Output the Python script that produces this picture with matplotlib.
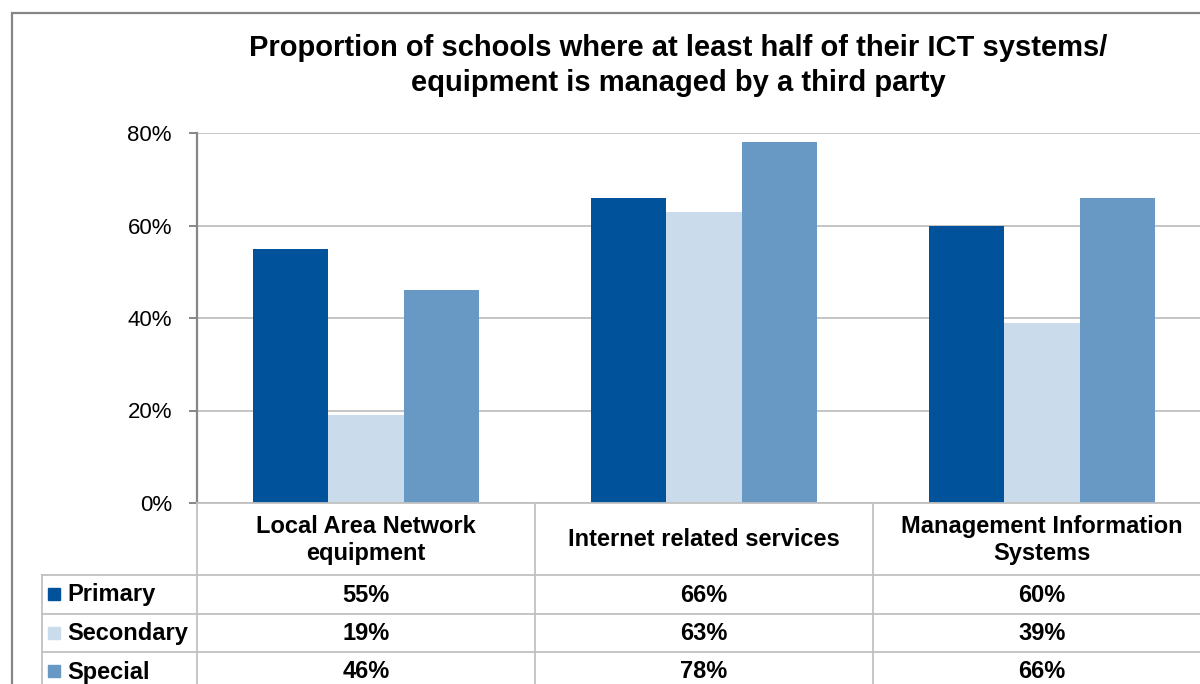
import matplotlib
matplotlib.use("Agg")
import matplotlib.pyplot as plt
from matplotlib.lines import Line2D
from matplotlib.patches import Rectangle
import numpy as np

plt.rcParams['font.family'] = ['Liberation Sans', 'DejaVu Sans']

categories = ["Local Area Network\nequipment", "Internet related services",
              "Management Information\nSystems"]
series_names = ["Primary", "Secondary", "Special"]
primary = [0.55, 0.66, 0.60]
secondary = [0.19, 0.63, 0.39]
special = [0.46, 0.78, 0.66]
yticks = [0.0, 0.2, 0.4, 0.6, 0.8]
ytick_labels = ["0%", "20%", "40%", "60%", "80%"]
title = ("Proportion of schools where at least half of their ICT systems/\n"
         "equipment is managed by a third party")

colors = ["#00529B", "#CADCEB", "#6799C4"]
grid_c = "#C0C0C0"
axis_c = "#868686"

W, H = 1200, 684
fig = plt.figure(figsize=(W / 100, H / 100), dpi=100)


def fx(x):
    return x / W


def fy(y):
    return 1 - y / H


# plot area in pixel terms
L, R, T, B = 197, 1211, 133, 503
ax = fig.add_axes([fx(L), fy(B), fx(R - L), (B - T) / H])

x = np.arange(len(categories))
bw = 0.222
series = [primary, secondary, special]
for i, (vals, c) in enumerate(zip(series, colors)):
    ax.bar(x + (i - 1) * bw, vals, width=bw, color=c, zorder=3)

ax.set_xlim(-0.5, len(categories) - 0.5)
ax.set_ylim(0, 0.8)
ax.set_yticks(yticks)
ax.set_yticklabels(ytick_labels, fontsize=16)
ax.set_xticks([])
ax.yaxis.grid(True, color=grid_c, linewidth=1.3, zorder=0)
for s in ["top", "right", "bottom"]:
    ax.spines[s].set_visible(False)
ax.spines["left"].set_color(axis_c)
ax.spines["left"].set_linewidth(1.6)
ax.spines["left"].set_zorder(4)
ax.tick_params(axis="y", length=6, width=1.4, color=axis_c, pad=12)

# outer chart frame
fig.patches.append(Rectangle((fx(12), fy(1400)), fx(1400), (1400 - 13) / H,
                             transform=fig.transFigure, fill=False,
                             edgecolor="#868686", linewidth=1.6))

fig.text(fx(678), fy(34), title, ha="center", va="top",
         fontsize=21, fontweight="bold", linespacing=1.32)

# data table beneath the plot
row_lines = [503, 575, 614, 652, 691]
for k, yy in enumerate(row_lines):
    x0 = L if k == 0 else 42
    fig.add_artist(Line2D([fx(x0), fx(1300)], [fy(yy), fy(yy)],
                          color=grid_c, linewidth=1.3))
fig.add_artist(Line2D([fx(42), fx(42)], [fy(575), fy(800)], color=grid_c, linewidth=1.3))
for xx in [L, 535, 873, R]:
    fig.add_artist(Line2D([fx(xx), fx(xx)], [fy(503), fy(800)], color=grid_c, linewidth=1.3))

to_fig = ax.transData + fig.transFigure.inverted()
for i, cat in enumerate(categories):
    cx = to_fig.transform((x[i], 0))[0]
    fig.text(cx, fy(540), cat, ha="center", va="center", fontsize=17,
             fontweight="bold", linespacing=1.25)

row_centers = [595, 633.5, 672]
for r, (name, vals, c) in enumerate(zip(series_names, series, colors)):
    yc = row_centers[r]
    fig.patches.append(Rectangle((fx(48), fy(yc + 5)), fx(12), 12 / H,
                                 transform=fig.transFigure, color=c))
    fig.text(fx(67), fy(yc), name, ha="left", va="center", fontsize=17,
             fontweight="bold")
    for i, v in enumerate(vals):
        cx = to_fig.transform((x[i], 0))[0]
        fig.text(cx, fy(yc), f"{round(v * 100)}%", ha="center", va="center",
                 fontsize=17, fontweight="bold")

fig.savefig("out.png", dpi=100, facecolor="white")
